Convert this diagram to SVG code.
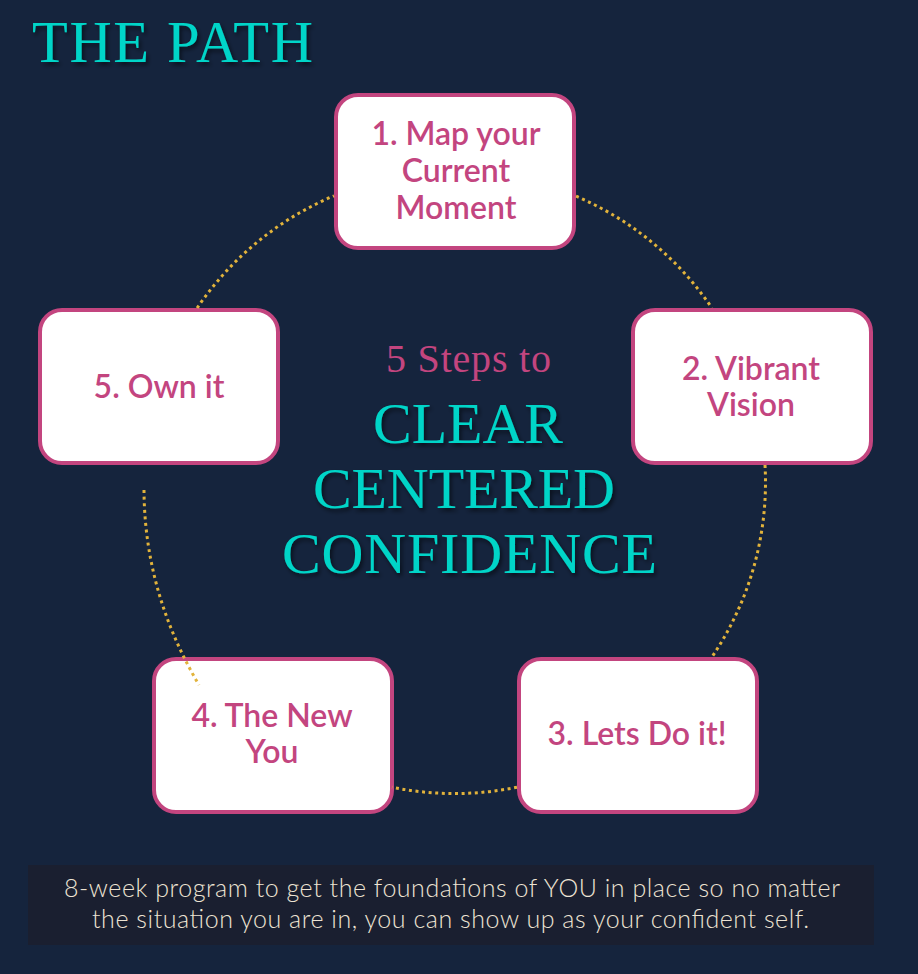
<svg xmlns="http://www.w3.org/2000/svg" width="918" height="974" viewBox="0 0 918 974">
<defs>
<filter id="sh" x="-10%" y="-20%" width="130%" height="150%">
<feDropShadow dx="2" dy="3" stdDeviation="2" flood-color="#000" flood-opacity="0.55"/>
</filter>
<style>
.box{fill:#fff;stroke:#C3457F;stroke-width:4}
.lbl{font-family:Lato,"Noto Sans",sans-serif;font-weight:600;font-size:32px;fill:#C3457F;text-anchor:middle}
.title{font-family:"Liberation Serif","DejaVu Serif",serif;fill:#00D5C8;filter:url(#sh)}
.big{font-size:58px}
.dot{fill:none;stroke:#E2B33B;stroke-width:3;stroke-dasharray:3 3.6}
.foot{font-family:Lato,"Noto Sans",sans-serif;font-weight:300;font-size:25px;fill:#EDE3D3}
</style>
</defs>
<rect width="918" height="974" fill="#15243D"/>
<text class="title" x="32" y="62" font-size="58.5" textLength="281">THE PATH</text>
<g id="center-title">
<text x="386" y="372" font-family="'Liberation Serif','DejaVu Serif',serif" font-size="40" fill="#C3457F" textLength="165">5 Steps to</text>
<text class="title big" x="373" y="443" textLength="190">CLEAR</text>
<text class="title big" x="313" y="508" textLength="302">CENTERED</text>
<text class="title big" x="282" y="573" textLength="375">CONFIDENCE</text>
</g>
<g id="node1">
<rect class="box" x="336" y="95" width="238" height="153" rx="22"/>
<text class="lbl" x="456" y="145">1. Map your</text>
<text class="lbl" x="456" y="182">Current</text>
<text class="lbl" x="456" y="219">Moment</text>
</g>
<g id="node2">
<rect class="box" x="633" y="310" width="238" height="153" rx="22"/>
<text class="lbl" x="751" y="380">2. Vibrant</text>
<text class="lbl" x="751" y="416">Vision</text>
</g>
<g id="node3">
<rect class="box" x="519" y="659" width="238" height="153" rx="22"/>
<text class="lbl" x="637" y="745">3. Lets Do it!</text>
</g>
<g id="node4">
<rect class="box" x="154" y="659" width="238" height="153" rx="22"/>
<text class="lbl" x="272" y="727">4. The New</text>
<text class="lbl" x="272" y="763">You</text>
</g>
<g id="node5">
<rect class="box" x="40" y="310" width="238" height="153" rx="22"/>
<text class="lbl" x="159" y="398">5. Own it</text>
</g>
<g id="connectors">
<path class="dot" d="M197.1,308 A311,311 0 0 1 334,195.8"/>
<path class="dot" d="M576,196.2 A311,311 0 0 1 711.9,308"/>
<path class="dot" d="M765,465 A311,311 0 0 1 711.9,657"/>
<path class="dot" d="M517,787.2 A311,311 0 0 1 392,787.2"/>
<path class="dot" d="M144,490 Q144.5,592.5 199,685"/>
</g>
<g id="footer">
<rect x="28" y="865" width="846" height="80" fill="#1A1F30"/>
<text class="foot" x="64" y="897" textLength="776">8-week program to get the foundations of YOU in place so no matter</text>
<text class="foot" x="92" y="928" textLength="717">the situation you are in, you can show up as your confident self.</text>
</g>
</svg>
